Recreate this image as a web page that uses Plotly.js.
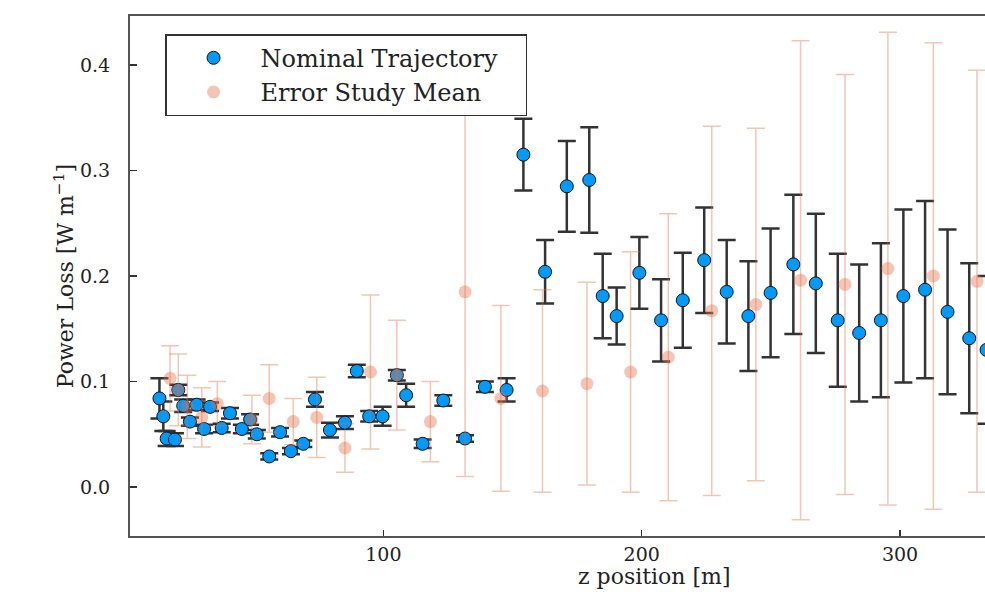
<!DOCTYPE html>
<html>
<head>
<meta charset="utf-8">
<script src="https://cdn.plot.ly/plotly-3.0.1.min.js"></script>
<style>html,body{margin:0;padding:0;background:#fff;}#chart{width:985px;height:592px;}</style>
</head>
<body>
<div id="chart"></div>
<script>
// Nominal trajectory
const nomX = [13.3, 14.8, 16.1, 19.3, 20.6, 22.5, 25.1, 27.7, 30.6, 32.9, 37.4, 40.6, 45.2, 48.4, 51.0, 55.8, 60.0, 64.2, 69.0, 73.5, 79.3, 85.1, 89.7, 94.5, 99.7, 105.2, 108.8, 115.2, 123.2, 131.6, 139.3, 147.7, 154.2, 162.6, 171.0, 179.7, 184.9, 190.3, 199.1, 207.5, 215.9, 224.2, 232.9, 241.3, 249.9, 258.7, 267.4, 275.9, 284.2, 292.6, 301.3, 309.7, 318.4, 326.8, 333.5];
const nomY = [0.084, 0.067, 0.046, 0.045, 0.092, 0.077, 0.062, 0.078, 0.055, 0.076, 0.056, 0.070, 0.055, 0.064, 0.050, 0.029, 0.052, 0.034, 0.041, 0.083, 0.054, 0.061, 0.110, 0.067, 0.067, 0.106, 0.087, 0.041, 0.082, 0.046, 0.095, 0.092, 0.315, 0.204, 0.285, 0.291, 0.181, 0.162, 0.203, 0.158, 0.177, 0.215, 0.185, 0.162, 0.184, 0.211, 0.193, 0.158, 0.146, 0.158, 0.181, 0.187, 0.166, 0.141, 0.130];
const nomErr = [0.019, 0.014, 0.007, 0.006, 0.005, 0.006, 0.004, 0.005, 0.004, 0.004, 0.004, 0.005, 0.004, 0.005, 0.004, 0.003, 0.004, 0.003, 0.003, 0.007, 0.007, 0.006, 0.006, 0.005, 0.009, 0.005, 0.011, 0.004, 0.005, 0.003, 0.005, 0.011, 0.034, 0.030, 0.043, 0.050, 0.040, 0.027, 0.034, 0.039, 0.045, 0.050, 0.049, 0.052, 0.061, 0.066, 0.066, 0.063, 0.065, 0.073, 0.082, 0.084, 0.078, 0.071, 0.070];

// Error study mean
const errX = [17.4, 20.6, 24.1, 29.7, 35.7, 49.1, 55.8, 65.1, 74.2, 85.1, 95.0, 105.2, 118.2, 131.6, 145.5, 161.6, 178.8, 195.7, 210.3, 227.1, 244.2, 261.5, 278.7, 295.3, 312.9, 329.8];
const errY = [0.103, 0.092, 0.076, 0.066, 0.079, 0.064, 0.084, 0.062, 0.066, 0.037, 0.109, 0.106, 0.062, 0.185, 0.084, 0.091, 0.098, 0.109, 0.123, 0.167, 0.173, 0.196, 0.192, 0.207, 0.200, 0.195];
const errErr = [0.031, 0.034, 0.030, 0.028, 0.021, 0.023, 0.032, 0.022, 0.038, 0.023, 0.073, 0.052, 0.038, 0.175, 0.088, 0.096, 0.096, 0.114, 0.136, 0.175, 0.167, 0.227, 0.199, 0.224, 0.221, 0.200];

const seriesNames = ['Nominal Trajectory', 'Error Study Mean'];
const xTitle = 'z position [m]';
const yTitle = 'Power Loss [W m<sup>\u22121</sup>]';

const serif = 'DejaVu Serif, Liberation Serif, serif';
const pad = '\u00A0\u00A0\u00A0';

const traces = [
  {
    x: nomX, y: nomY, type: 'scatter', mode: 'markers', name: seriesNames[0] + pad,
    marker: {color: '#009AFA', size: 13, line: {color: '#111', width: 1}},
    error_y: {type: 'data', array: nomErr, visible: true, color: '#333', thickness: 2.5, width: 9}
  },
  {
    x: errX, y: errY, type: 'scatter', mode: 'markers', name: seriesNames[1] + pad,
    marker: {color: 'rgba(227,111,71,0.4)', size: 13, line: {width: 0}},
    error_y: {type: 'data', array: errErr, visible: true, color: 'rgba(227,111,71,0.4)', thickness: 1.5, width: 9}
  }
];

const layout = {
  width: 985, height: 592,
  margin: {l: 130, r: 0, t: 16, b: 56},
  paper_bgcolor: '#fff', plot_bgcolor: '#fff',
  font: {family: serif, color: '#222'},
  showlegend: true,
  legend: {
    x: 0.041, y: 0.965, xanchor: 'left', yanchor: 'top',
    bgcolor: '#fff', bordercolor: '#333', borderwidth: 1.5,
    font: {family: serif, size: 24, color: '#222'},
    itemwidth: 84
  },
  xaxis: {
    range: [1.9, 332.9], dtick: 100, tick0: 0,
    showgrid: false, zeroline: false,
    showline: true, linecolor: '#555', linewidth: 2, mirror: true,
    ticks: 'inside', ticklen: 6, tickwidth: 1.5, tickcolor: '#333',
    tickfont: {family: serif, size: 19, color: '#222'},
    automargin: false
  },
  yaxis: {
    range: [-0.0464, 0.4464], dtick: 0.1, tick0: 0, tickformat: '.1f',
    showgrid: false, zeroline: false,
    showline: true, linecolor: '#555', linewidth: 2, mirror: false,
    ticks: 'inside', ticklen: 7, tickwidth: 1.5, tickcolor: '#333',
    tickfont: {family: serif, size: 19, color: '#222'},
    ticklabelstandoff: 14,
    title: {text: yTitle, font: {family: serif, size: 22, color: '#222'}, standoff: 0},
    automargin: false
  },
  annotations: [
    {text: xTitle, xref: 'paper', yref: 'paper', x: 0.614, y: 0, yshift: -40,
     xanchor: 'center', yanchor: 'middle', showarrow: false,
     font: {family: serif, size: 22, color: '#222'}}
  ]
};

Plotly.newPlot('chart', traces, layout, {displayModeBar: false, staticPlot: true});
</script>
</body>
</html>
